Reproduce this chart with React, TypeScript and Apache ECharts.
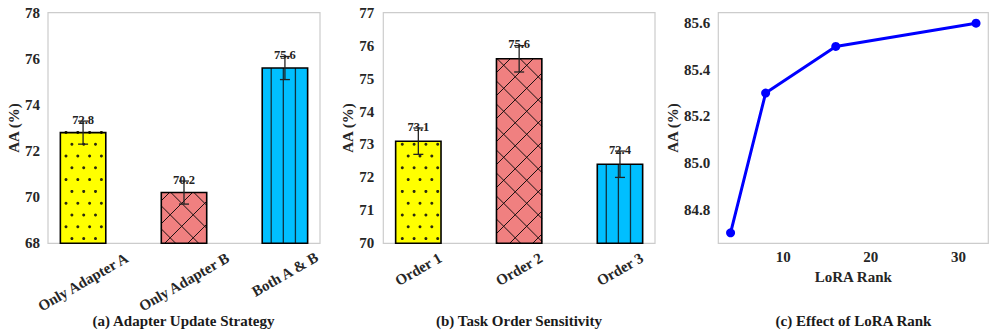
import React, { useEffect, useRef } from 'react';
import * as echarts from 'echarts';

// ---------- data ----------
const strategyCategories = ['Only Adapter A', 'Only Adapter B', 'Both A & B'];
const strategyValues = [72.8, 70.2, 75.6];
const strategyErrors = [0.5, 0.5, 0.5];
const strategyTicksY = [68, 70, 72, 74, 76, 78];

const orderCategories = ['Order 1', 'Order 2', 'Order 3'];
const orderValues = [73.1, 75.6, 72.4];
const orderErrors = [0.4, 0.4, 0.4];
const orderTicksY = [70, 71, 72, 73, 74, 75, 76, 77];

const loraRanks = [4, 8, 16, 32];
const loraValues = [84.7, 85.3, 85.5, 85.6];
const loraTicksX = [10, 20, 30];
const loraTicksY = [84.8, 85.0, 85.2, 85.4, 85.6];

const panelTitles = ['(a) Adapter Update Strategy', '(b) Task Order Sensitivity', '(c) Effect of LoRA Rank'];
const yName = 'AA (%)';
const xNameLora = 'LoRA Rank';

// ---------- styles ----------
const FONT = '"Liberation Serif", "Times New Roman", "DejaVu Serif", serif';
const TICK_COLOR = '#262626';
const barLook = [
  { fill: '#ffff00', hatch: 'dots' },
  { fill: '#f08080', hatch: 'cross' },
  { fill: '#00bfff', hatch: 'vline' },
];
const BAR_W = 0.45;
const X_MIN = -0.3475;
const X_MAX = 2.3475;

function makeRenderBar(yMin: number) {
  return (params: any, api: any) => {
    const idx = params.dataIndex;
    const x = api.value(0);
    const v = api.value(1);
    const e = api.value(2);
    const top = api.coord([x, v]);
    const base = api.coord([x, yMin]);
    const w = api.size([BAR_W, 0])[0];
    const cx = top[0];
    const L = cx - w / 2;
    const R = cx + w / 2;
    const T = top[1];
    const B = base[1];
    const look = barLook[idx % barLook.length];
    const children: any[] = [];
    children.push({
      type: 'rect',
      shape: { x: L, y: T, width: w, height: B - T },
      style: { fill: look.fill },
    });
    if (look.hatch === 'dots') {
      const sp = 11.8;
      const y0 = 156;
      const x0 = 66;
      const n0 = Math.ceil((T - 1 - y0) / sp);
      const n1 = Math.floor((B - 1 - y0) / sp);
      for (let n = n0; n <= n1; n++) {
        const yy = y0 + n * sp;
        const off = ((n % 2) + 2) % 2 === 1 ? sp / 2 : 0;
        const m0 = Math.ceil((L + 1.5 - x0 - off) / sp);
        const m1 = Math.floor((R - 1.5 - x0 - off) / sp);
        for (let m = m0; m <= m1; m++) {
          children.push({
            type: 'circle',
            shape: { cx: x0 + off + m * sp, cy: yy, r: 1.5 },
            style: { fill: '#2a2a10' },
          });
        }
      }
    } else if (look.hatch === 'cross') {
      const d = 23;
      const a0 = -21.6;
      const b0 = 385;
      const ls = { stroke: '#1a1010', lineWidth: 1 };
      for (let k = Math.ceil((L - B - a0) / d); a0 + k * d <= R - T; k++) {
        const a = a0 + k * d;
        const x1 = Math.max(L, T + a);
        const x2 = Math.min(R, B + a);
        if (x2 > x1) children.push({ type: 'line', shape: { x1, y1: x1 - a, x2, y2: x2 - a }, style: ls });
      }
      for (let k = Math.ceil((L + T - b0) / d); b0 + k * d <= R + B; k++) {
        const b = b0 + k * d;
        const x1 = Math.max(L, b - B);
        const x2 = Math.min(R, b - T);
        if (x2 > x1) children.push({ type: 'line', shape: { x1, y1: b - x1, x2, y2: b - x2 }, style: ls });
      }
    } else if (look.hatch === 'vline') {
      for (let xx = L + 9; xx < R - 1; xx += 12.1) {
        children.push({
          type: 'line',
          shape: { x1: xx, y1: T, x2: xx, y2: B },
          style: { stroke: '#10323f', lineWidth: 1.3 },
        });
      }
    }
    children.push({
      type: 'rect',
      shape: { x: L, y: T, width: w, height: B - T },
      style: { fill: 'none', stroke: '#000', lineWidth: 1.6 },
    });
    const eTop = api.coord([x, v + e])[1];
    const eBot = api.coord([x, v - e])[1];
    const es = { stroke: '#222', lineWidth: 1.3 };
    children.push({ type: 'line', shape: { x1: cx, y1: eTop, x2: cx, y2: eBot }, style: es });
    children.push({ type: 'line', shape: { x1: cx - 5, y1: eTop, x2: cx + 5, y2: eTop }, style: es });
    children.push({ type: 'line', shape: { x1: cx - 5, y1: eBot, x2: cx + 5, y2: eBot }, style: es });
    children.push({
      type: 'text',
      x: cx,
      y: eTop - 1.5,
      style: {
        text: v.toFixed(1),
        align: 'center',
        verticalAlign: 'middle',
        fontSize: 12.5,
        fontWeight: 'bold',
        fontFamily: FONT,
        fill: '#222',
      },
    });
    return { type: 'group', children };
  };
}

const tickLabel = { fontSize: 15, fontWeight: 'bold' as const, fontFamily: FONT, color: TICK_COLOR };
const nameStyle = { fontSize: 15, fontWeight: 'bold' as const, fontFamily: FONT, color: TICK_COLOR };

function catXAxis(gridIndex: number, cats: string[], values: number[], margin: number) {
  return {
    type: 'value',
    gridIndex,
    position: 'bottom',
    min: X_MIN,
    max: X_MAX,
    axisLine: { show: false },
    axisTick: { show: false },
    splitLine: { show: false },
    axisLabel: {
      ...tickLabel,
      customValues: values,
      formatter: (val: number) => cats[Math.round(val)] ?? '',
      rotate: 30,
      align: 'center',
      verticalAlign: 'middle',
      margin,
    },
  };
}

export default function App() {
  const ref = useRef<HTMLDivElement>(null);
  useEffect(() => {
    if (!ref.current) return;
    const chart = echarts.init(ref.current, undefined, { renderer: 'svg' });
    const gridBase = { show: true, borderColor: '#cccccc', borderWidth: 1.2, backgroundColor: 'transparent' };
    const option: any = {
      animation: false,
      backgroundColor: '#ffffff',
      textStyle: { fontFamily: FONT },
      grid: [
        { ...gridBase, left: 48, top: 12.7, width: 272, height: 230.6 },
        { ...gridBase, left: 383.3, top: 12.7, width: 271.7, height: 230.6 },
        { ...gridBase, left: 718.3, top: 12.7, width: 270, height: 230.6 },
      ],
      xAxis: [
        catXAxis(0, strategyCategories, [0, 1], 38.7),
        catXAxis(0, strategyCategories, [2], 31),
        catXAxis(1, orderCategories, [0, 1, 2], 26),
        {
          type: 'value',
          gridIndex: 2,
          min: 2.6,
          max: 33.4,
          axisLine: { show: false },
          axisTick: { show: false },
          splitLine: { show: false },
          axisLabel: { ...tickLabel, customValues: loraTicksX, margin: 6 },
          name: xNameLora,
          nameLocation: 'middle',
          nameGap: 23,
          nameTextStyle: nameStyle,
        },
      ],
      yAxis: [
        {
          type: 'value',
          gridIndex: 0,
          min: strategyTicksY[0],
          max: strategyTicksY[strategyTicksY.length - 1],
          interval: 2,
          axisLine: { show: false },
          axisTick: { show: false },
          splitLine: { show: false },
          axisLabel: { ...tickLabel, margin: 8 },
          name: yName,
          nameLocation: 'middle',
          nameGap: 23,
          nameTextStyle: nameStyle,
        },
        {
          type: 'value',
          gridIndex: 1,
          min: orderTicksY[0],
          max: orderTicksY[orderTicksY.length - 1],
          interval: 1,
          axisLine: { show: false },
          axisTick: { show: false },
          splitLine: { show: false },
          axisLabel: { ...tickLabel, margin: 9 },
          name: yName,
          nameLocation: 'middle',
          nameGap: 25,
          nameTextStyle: nameStyle,
        },
        {
          type: 'value',
          gridIndex: 2,
          min: 84.655,
          max: 85.645,
          axisLine: { show: false },
          axisTick: { show: false },
          splitLine: { show: false },
          axisLabel: {
            ...tickLabel,
            margin: 8,
            customValues: loraTicksY,
            formatter: (v: number) => v.toFixed(1),
          },
          name: yName,
          nameLocation: 'middle',
          nameGap: 36,
          nameTextStyle: nameStyle,
        },
      ],
      series: [
        {
          type: 'custom',
          xAxisIndex: 0,
          yAxisIndex: 0,
          clip: false,
          encode: { x: 0, y: 1 },
          renderItem: makeRenderBar(strategyTicksY[0]),
          data: strategyValues.map((v, i) => [i, v, strategyErrors[i]]),
        },
        {
          type: 'custom',
          xAxisIndex: 2,
          yAxisIndex: 1,
          clip: false,
          encode: { x: 0, y: 1 },
          renderItem: makeRenderBar(orderTicksY[0]),
          data: orderValues.map((v, i) => [i, v, orderErrors[i]]),
        },
        {
          type: 'line',
          xAxisIndex: 3,
          yAxisIndex: 2,
          data: loraRanks.map((r, i) => [r, loraValues[i]]),
          symbol: 'circle',
          symbolSize: 9,
          lineStyle: { color: '#0000ff', width: 3 },
          itemStyle: { color: '#0000ff' },
        },
      ],
      graphic: panelTitles.map((t, i) => ({
        type: 'text',
        x: [183.5, 519, 853.5][i],
        y: 321,
        style: {
          text: t,
          align: 'center',
          verticalAlign: 'middle',
          fontSize: 15,
          fontWeight: 'bold',
          fontFamily: FONT,
          fill: '#1a1a1a',
        },
      })),
    };
    chart.setOption(option);
    return () => chart.dispose();
  }, []);
  return (
    <div
      ref={ref}
      style={{ position: 'fixed', left: 0, top: 0, width: 996, height: 335, background: '#fff' }}
    />
  );
}
